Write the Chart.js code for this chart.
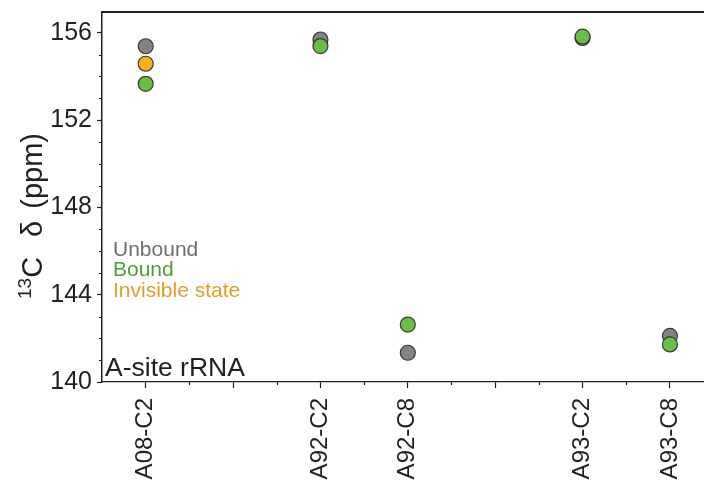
<!DOCTYPE html>
<html>
<head>
<meta charset="utf-8">
<script src="https://cdn.jsdelivr.net/npm/chart.js@4/dist/chart.umd.min.js"></script>
<style>
  html, body { margin: 0; padding: 0; background: #ffffff; }
  #wrap { width: 704px; height: 485px; }
</style>
</head>
<body>
<div id="wrap"><canvas id="c" width="704" height="485"></canvas></div>
<script>
// ---- data ----
const categories = ['A08-C2', 'A92-C2', 'A92-C8', 'A93-C2', 'A93-C8'];
const categoryX = [1, 3, 4, 6, 7];
const unboundValues = [155.38, 155.69, 141.34, 155.76, 142.11];
const boundValues = [153.66, 155.39, 142.63, 155.82, 141.72];
const invisibleValues = [154.58, null, null, null, null];
const yMajorTicks = [140, 144, 148, 152, 156];
const yMinorTicks = [141, 142, 143, 145, 146, 147, 149, 150, 151, 153, 154, 155];
const xMajorTicks = [1, 2, 3, 4, 5, 6, 7];
const xMinorTicks = [1.5, 2.5, 3.5, 4.5, 5.5, 6.5];
const legendItems = ['Unbound', 'Bound', 'Invisible state'];
const panelLabel = 'A-site rRNA';
// y title pieces: superscript "13", then "C", "δ", "(ppm)"
const yTitlePieces = ['13', 'C', '\u03B4', '(ppm)'];

const INK = '#231f20';
const FONT = "'Liberation Sans', Arial, Helvetica, sans-serif";

function toPoints(vals) {
  return vals.map((v, i) => (v === null ? null : { x: categoryX[i], y: v })).filter(p => p);
}

const minorTicksPlugin = {
  id: 'minorTicks',
  afterDraw(chart) {
    const ctx = chart.ctx;
    const xs = chart.scales.x, ys = chart.scales.y;
    ctx.save();
    ctx.strokeStyle = INK;
    ctx.lineWidth = 1.2;
    ctx.beginPath();
    yMinorTicks.forEach(v => {
      const py = Math.round(ys.getPixelForValue(v)) + 0.5;
      ctx.moveTo(xs.left - 3, py);
      ctx.lineTo(xs.left, py);
    });
    xMinorTicks.forEach(v => {
      const px = Math.round(xs.getPixelForValue(v)) + 0.5;
      ctx.moveTo(px, ys.bottom);
      ctx.lineTo(px, ys.bottom + 3);
    });
    ctx.stroke();
    ctx.restore();
  }
};

const textPlugin = {
  id: 'panelText',
  afterDraw(chart) {
    const ctx = chart.ctx;
    const ca = chart.chartArea;
    ctx.save();
    ctx.textAlign = 'left';
    ctx.textBaseline = 'alphabetic';
    const colors = ['#6d6e71', '#4f9e3a', '#e49b2a'];
    ctx.font = '21px ' + FONT;
    legendItems.forEach((t, i) => {
      ctx.fillStyle = colors[i];
      ctx.fillText(t, ca.left + 11, 256 + i * 20.3);
    });
    ctx.fillStyle = INK;
    ctx.font = '26.5px ' + FONT;
    ctx.fillText(panelLabel, ca.left + 3, ca.bottom - 6);
    ctx.restore();

    // y axis title, rotated, with superscript
    ctx.save();
    ctx.translate(42, 299);
    ctx.rotate(-Math.PI / 2);
    ctx.fillStyle = INK;
    ctx.textAlign = 'left';
    const mainFont = '29px ' + FONT;
    const supFont = '19px ' + FONT;
    const gaps = [0, 0, 20, 12];
    let x = 0;
    yTitlePieces.forEach((p, i) => {
      x += gaps[i];
      if (i === 0) {
        ctx.font = supFont;
        ctx.fillText(p, x, -11);
      } else {
        ctx.font = mainFont;
        ctx.fillText(p, x, 0);
      }
      x += ctx.measureText(p).width;
    });
    ctx.restore();
  }
};

const pointStyle = (fill) => ({
  backgroundColor: fill,
  borderColor: '#3a3a3a',
  borderWidth: 1.2,
  pointRadius: 7.5,
  pointHoverRadius: 7.5,
  showLine: false
});

const noPad = (s) => { s.paddingLeft = 0; s.paddingRight = 0; s.paddingTop = 0; s.paddingBottom = 0; };

new Chart(document.getElementById('c'), {
  type: 'scatter',
  data: {
    datasets: [
      Object.assign({ label: 'Bound', data: toPoints(boundValues), order: 0 }, pointStyle('#6abd45')),
      Object.assign({ label: 'Invisible state', data: toPoints(invisibleValues), order: 1 }, pointStyle('#fbb01a')),
      Object.assign({ label: 'Unbound', data: toPoints(unboundValues), order: 2 }, pointStyle('#808285'))
    ]
  },
  options: {
    responsive: false,
    animation: false,
    devicePixelRatio: 1,
    layout: { autoPadding: false, padding: { left: 0, top: 12, right: 0, bottom: 0 } },
    plugins: { legend: { display: false }, tooltip: { enabled: false } },
    scales: {
      x: {
        type: 'linear',
        position: 'bottom',
        min: 0.5,
        max: 7.39,
        afterBuildTicks: (s) => { s.ticks = xMajorTicks.map(v => ({ value: v })); },
        afterFit: (s) => { s.height = 103; noPad(s); },
        grid: { drawOnChartArea: false, tickLength: 6, tickColor: INK, tickWidth: 1.2 },
        border: { display: true, color: INK, width: 1.2 },
        ticks: {
          autoSkip: false,
          maxRotation: 90,
          minRotation: 90,
          padding: 10,
          color: INK,
          font: { family: FONT, size: 24 },
          callback: (v) => { const i = categoryX.indexOf(v); return i >= 0 ? categories[i] : ''; }
        }
      },
      xTop: {
        type: 'linear',
        position: 'top',
        min: 0.5,
        max: 7.39,
        afterFit: (s) => { s.height = 0; noPad(s); },
        grid: { drawOnChartArea: false, drawTicks: false },
        border: { display: true, color: INK, width: 2 },
        ticks: { display: false }
      },
      y: {
        type: 'linear',
        min: 140,
        max: 156.95,
        afterBuildTicks: (s) => { s.ticks = yMajorTicks.map(v => ({ value: v })); },
        afterFit: (s) => { s.width = 102; noPad(s); },
        grid: { drawOnChartArea: false, tickLength: 5, tickColor: INK, tickWidth: 1.2 },
        border: { display: true, color: INK, width: 1.5 },
        ticks: {
          padding: 5,
          color: INK,
          font: { family: FONT, size: 25 },
          callback: (v) => String(v)
        },
        title: { display: false }
      }
    }
  },
  plugins: [minorTicksPlugin, textPlugin]
});
</script>
</body>
</html>
